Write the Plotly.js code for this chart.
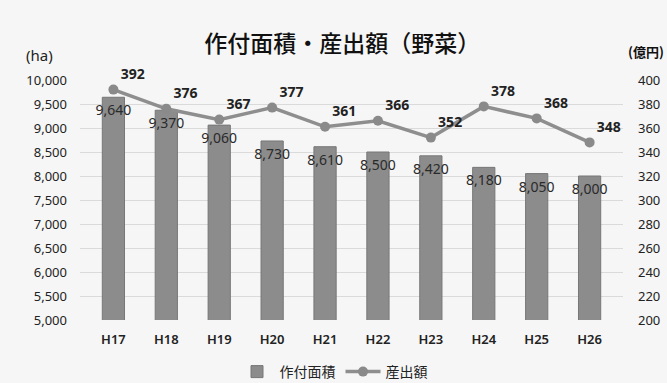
<!DOCTYPE html>
<html>
<head>
<meta charset="utf-8">
<script src="https://cdn.plot.ly/plotly-3.0.1.min.js"></script>
<style>html,body{margin:0;padding:0;background:#f6f6f6;}#chart{width:667px;height:383px;}</style>
</head>
<body>
<div id="chart"></div>
<script>
const categories = ['H17','H18','H19','H20','H21','H22','H23','H24','H25','H26'];
const areaHa = [9640, 9370, 9060, 8730, 8610, 8500, 8420, 8180, 8050, 8000];
const outputOku = [392, 376, 367, 377, 361, 366, 352, 378, 368, 348];
const leftTicks = [5000,5500,6000,6500,7000,7500,8000,8500,9000,9500,10000];
const rightTicks = [200,220,240,260,280,300,320,340,360,380,400];

const fmt = v => v.toLocaleString('en-US');
const font = '"Noto Sans", "Noto Sans CJK JP", sans-serif';
const jfont = '"Noto Sans CJK JP", "Noto Sans", sans-serif';

const bars = {
  type: 'bar', name: '作付面積', x: categories, y: areaHa,
  text: areaHa.map(fmt), textposition: 'inside', insidetextanchor: 'end',
  constraintext: 'none', textangle: 0,
  insidetextfont: {family: font, size: 14, color: '#2a2a2a'},
  marker: {color: '#8c8c8c', line: {color: '#777777', width: 1}},
  yaxis: 'y', hoverinfo: 'none'
};
const line = {
  type: 'scatter', mode: 'lines+markers+text', name: '産出額', x: categories, y: outputOku,
  text: outputOku.map(String), textposition: 'top right', cliponaxis: false,
  textfont: {family: font, size: 14, color: '#222', weight: 700},
  line: {color: '#8e8e8e', width: 3.5}, marker: {color: '#8a8a8a', size: 10},
  yaxis: 'y2', hoverinfo: 'none'
};

const layout = {
  width: 667, height: 383,
  paper_bgcolor: '#f6f6f6', plot_bgcolor: '#f6f6f6',
  margin: {l: 80, r: 44, t: 80, b: 63},
  bargap: 0.58,
  showlegend: true,
  title: {text: '作付面積・産出額（野菜）', font: {family: jfont, size: 23, color: '#111', weight: 500},
          x: 0.513, xref: 'container', xanchor: 'center', y: 1 - 44/383, yref: 'container', yanchor: 'middle'},
  xaxis: {tickfont: {family: font, size: 13, color: '#222', weight: 600}, showgrid: false, zeroline: false,
          showline: false, ticks: '', ticklabelstandoff: 10, automargin: false},
  yaxis: {range: [5000, 10000], tickvals: leftTicks, ticktext: leftTicks.map(fmt),
          tickfont: {family: font, size: 13, color: '#222'}, gridcolor: '#dadada', gridwidth: 1,
          zeroline: false, showline: false, ticks: '', ticklabelstandoff: 12, automargin: false},
  yaxis2: {range: [200, 400], tickvals: rightTicks, overlaying: 'y', side: 'right',
           tickfont: {family: font, size: 13, color: '#222'}, showgrid: false, zeroline: false,
           showline: false, ticks: '', ticklabelstandoff: 14, automargin: false},
  legend: {orientation: 'h', x: 0.5, xref: 'container', xanchor: 'center', y: 1 - 372/383, yref: 'container', yanchor: 'middle',
           font: {family: jfont, size: 14, color: '#222'}, bgcolor: 'rgba(0,0,0,0)', itemwidth: 35},
  annotations: [
    {text: '(ha)', xref: 'paper', yref: 'paper', x: (24-80)/543, y: (320-55)/240, xanchor: 'left', yanchor: 'middle',
     showarrow: false, font: {family: font, size: 15, color: '#222'}},
    {text: '(億円)', xref: 'paper', yref: 'paper', x: (626-80)/543, y: (320-52)/240, xanchor: 'left', yanchor: 'middle',
     showarrow: false, font: {family: jfont, size: 13, color: '#111', weight: 700}}
  ]
};
Plotly.newPlot('chart', [bars, line], layout, {displayModeBar: false, staticPlot: true});
</script>
</body>
</html>
